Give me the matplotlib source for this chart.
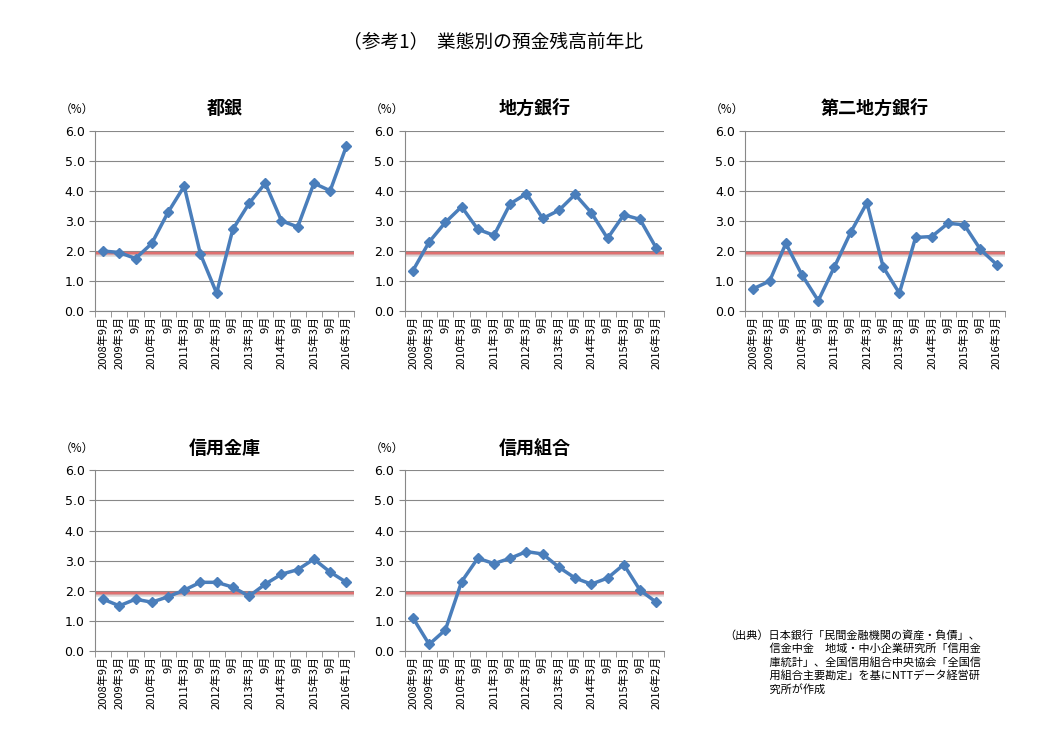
import matplotlib
matplotlib.use('Agg')
import matplotlib.pyplot as plt
import numpy as np

plt.rcParams['font.family'] = 'Noto Sans CJK JP'

LABELS_A = ['2008年9月', '2009年3月', '9月', '2010年3月', '9月', '2011年3月', '9月', '2012年3月',
            '9月', '2013年3月', '9月', '2014年3月', '9月', '2015年3月', '9月', '2016年3月']
LABELS_SHINKIN = LABELS_A[:-1] + ['2016年1月']
LABELS_KUMIAI = LABELS_A[:-1] + ['2016年2月']

TOGIN = [2.0, 1.95, 1.75, 2.25, 3.28, 4.15, 1.9, 0.6, 2.72, 3.58, 4.25, 3.0, 2.8, 4.25, 4.0, 5.48]
CHIGIN = [1.35, 2.3, 2.95, 3.47, 2.72, 2.52, 3.57, 3.9, 3.08, 3.35, 3.88, 3.27, 2.42, 3.2, 3.05, 2.1]
DAINI = [0.75, 1.0, 2.25, 1.2, 0.35, 1.48, 2.62, 3.6, 1.47, 0.6, 2.45, 2.48, 2.92, 2.87, 2.05, 1.55]
SHINKIN = [1.72, 1.5, 1.72, 1.62, 1.8, 2.02, 2.28, 2.28, 2.12, 1.82, 2.22, 2.55, 2.7, 3.05, 2.62, 2.28]
KUMIAI = [1.1, 0.22, 0.7, 2.3, 3.08, 2.9, 3.08, 3.3, 3.22, 2.78, 2.42, 2.22, 2.42, 2.87, 2.02, 1.62]
REF_LINE = 1.93

panels = [
    ('都銀', TOGIN, LABELS_A, [0.0915, 0.585]),
    ('地方銀行', CHIGIN, LABELS_A, [0.39, 0.585]),
    ('第二地方銀行', DAINI, LABELS_A, [0.718, 0.585]),
    ('信用金庫', SHINKIN, LABELS_SHINKIN, [0.0915, 0.132]),
    ('信用組合', KUMIAI, LABELS_KUMIAI, [0.39, 0.132]),
]

fig = plt.figure(figsize=(10.38, 7.5), dpi=100)
fig.text(0.475, 0.944, '（参考1）  業態別の預金残高前年比', fontsize=13.5, ha='center', va='center')

for title, vals, labels, (l, b) in panels:
    ax = fig.add_axes([l, b, 0.25, 0.241])
    x = np.arange(len(vals))
    ax.axhline(REF_LINE, color='#e07070', lw=2.5, zorder=1)
    ax.axhline(REF_LINE - 0.06, color='#cccccc', lw=2, alpha=0.6, zorder=1)
    ax.plot(x, vals, color='#4a7ebb', lw=2.5, marker='D', markersize=5, zorder=3)
    ax.set_ylim(0, 6)
    ax.set_xlim(-0.5, len(vals) - 0.5)
    ax.set_yticks(np.arange(0, 6.1, 1.0))
    ax.set_yticklabels([f'{v:.1f}' for v in np.arange(0, 6.1, 1.0)], fontsize=9,
                       fontfamily='DejaVu Sans')
    ax.yaxis.grid(True, color='#888888', lw=0.8)
    ax.set_axisbelow(True)
    ax.set_xticks(x)
    ax.set_xticklabels(labels, rotation=90, fontsize=8)
    ax.set_xticks(np.arange(-0.5, len(vals), 1), minor=True)
    ax.tick_params(axis='x', which='major', length=0)
    ax.tick_params(axis='x', which='minor', length=4, color='#888888')
    ax.tick_params(axis='y', length=4, color='#888888')
    for s in ['top', 'right']:
        ax.spines[s].set_visible(False)
    ax.spines['left'].set_color('#888888')
    ax.spines['bottom'].set_color('#888888')
    ax.set_title(title, fontsize=13, fontweight='bold', pad=12)
    ax.text(-0.07, 1.1, '（%）', transform=ax.transAxes, fontsize=8.5, ha='center')

fig.text(0.698, 0.16, '（出典）日本銀行「民間金融機関の資産・負債」、\n'
         '　　　　信金中金　地域・中小企業研究所「信用金\n'
         '　　　　庫統計」、全国信用組合中央協会「全国信\n'
         '　　　　用組合主要勘定」を基にNTTデータ経営研\n'
         '　　　　究所が作成', fontsize=8, va='top', linespacing=1.3)

fig.savefig('out.png', dpi=100)
